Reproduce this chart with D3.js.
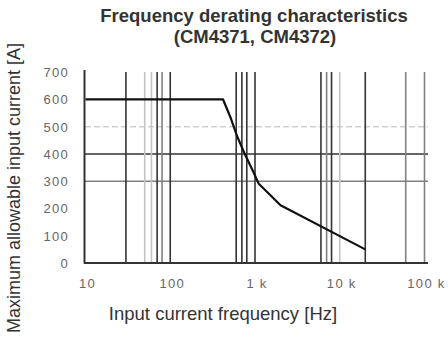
<!DOCTYPE html>
<html>
<head>
<meta charset="utf-8">
<script src="https://cdn.jsdelivr.net/npm/d3@7"></script>
<style>
  body { margin: 0; background: #fff; }
  svg text { font-family: "Liberation Sans", Arial, sans-serif; }
</style>
</head>
<body>
<div id="chart"></div>
<script>
// derating curve
var freq    = [10, 420, 520, 615, 770, 970, 1100, 1450, 2000, 20000];
var current = [600, 600, 530, 465, 395, 330, 292, 255, 212, 50];

// vertical grid lines (Hz) and their shade
var vlines = [30, 50, 60, 70, 80, 100, 600, 700, 800, 1000, 6000, 7000, 8000, 10000, 20000, 60000, 100000];
var vshade = ["d", "l", "l", "d", "m", "d", "d", "d", "d", "d", "d", "m", "d", "l", "d", "m", "m"];

// horizontal grid lines (A) and their shade
var hlines = [500, 400, 300];
var hshade = ["dash", "d", "m"];

var yTicks = [0, 100, 200, 300, 400, 500, 600, 700];
var xTicks = [10, 100, 1000, 10000, 100000];
var xTickLabels = ["10", "100", "1 k", "10 k", "100 k"];

var W = 448, H = 337;
var shade = { d: "#333", m: "#808080", l: "#c4c4c4", dash: "#d0d0d0" };

var svg = d3.select("#chart").append("svg")
    .attr("width", W)
    .attr("height", H);

var x = d3.scaleLog().domain([10, 100000]).range([85.5, 424.5]);
var y = d3.scaleLinear().domain([0, 700]).range([263, 72.2]);

// title
svg.append("text")
    .attr("x", 254).attr("y", 22)
    .attr("text-anchor", "middle")
    .attr("font-size", "18.5px").attr("font-weight", "bold").attr("fill", "#333")
    .text("Frequency derating characteristics");
svg.append("text")
    .attr("x", 255).attr("y", 43)
    .attr("text-anchor", "middle")
    .attr("font-size", "18.5px").attr("font-weight", "bold").attr("fill", "#333")
    .text("(CM4371, CM4372)");

var g = svg.append("g");

// horizontal grid
g.selectAll("line.h")
    .data(hlines)
    .enter().append("line")
    .attr("class", "h")
    .attr("x1", 85).attr("x2", 428)
    .attr("y1", function(d) { return y(d); })
    .attr("y2", function(d) { return y(d); })
    .attr("stroke", function(d, i) { return shade[hshade[i]]; })
    .attr("stroke-width", 1.5)
    .attr("stroke-dasharray", function(d, i) { return hshade[i] == "dash" ? "6,3" : null; });

// vertical grid
g.selectAll("line.v")
    .data(vlines)
    .enter().append("line")
    .attr("class", "v")
    .attr("x1", function(d) { return x(d); })
    .attr("x2", function(d) { return x(d); })
    .attr("y1", 72).attr("y2", 263)
    .attr("stroke", function(d, i) { return shade[vshade[i]]; })
    .attr("stroke-width", 1.6);

// axes lines
g.append("line")
    .attr("x1", 84.5).attr("x2", 84.5).attr("y1", 70).attr("y2", 263.5)
    .attr("stroke", "#333").attr("stroke-width", 2);
g.append("line")
    .attr("x1", 84).attr("x2", 428).attr("y1", 263).attr("y2", 263)
    .attr("stroke", "#333").attr("stroke-width", 2);

// curve
var line = d3.line()
    .x(function(d, i) { return x(freq[i]); })
    .y(function(d) { return y(d); });

g.append("path")
    .datum(current)
    .attr("d", line)
    .attr("fill", "none")
    .attr("stroke", "#111")
    .attr("stroke-width", 2.2)
    .attr("stroke-linejoin", "round");

// tick labels
svg.selectAll("text.yt")
    .data(yTicks)
    .enter().append("text")
    .attr("class", "yt")
    .attr("x", 69)
    .attr("y", function(d) { return y(d) + 5; })
    .attr("text-anchor", "end")
    .attr("font-size", "13px")
    .attr("letter-spacing", "1.3px")
    .attr("fill", "#666")
    .text(function(d) { return d; });

svg.selectAll("text.xt")
    .data(xTicks)
    .enter().append("text")
    .attr("class", "xt")
    .attr("x", function(d) { return x(d) + 2; })
    .attr("y", 288)
    .attr("text-anchor", "middle")
    .attr("font-size", "13px")
    .attr("letter-spacing", "1.3px")
    .attr("fill", "#666")
    .text(function(d, i) { return xTickLabels[i]; });

// axis titles
svg.append("text")
    .attr("x", 223).attr("y", 320)
    .attr("text-anchor", "middle")
    .attr("font-size", "18.5px").attr("fill", "#333")
    .text("Input current frequency [Hz]");

svg.append("text")
    .attr("transform", "translate(20,188) rotate(-90)")
    .attr("text-anchor", "middle")
    .attr("font-size", "18px").attr("fill", "#333")
    .text("Maximum allowable input current [A]");
</script>
</body>
</html>
